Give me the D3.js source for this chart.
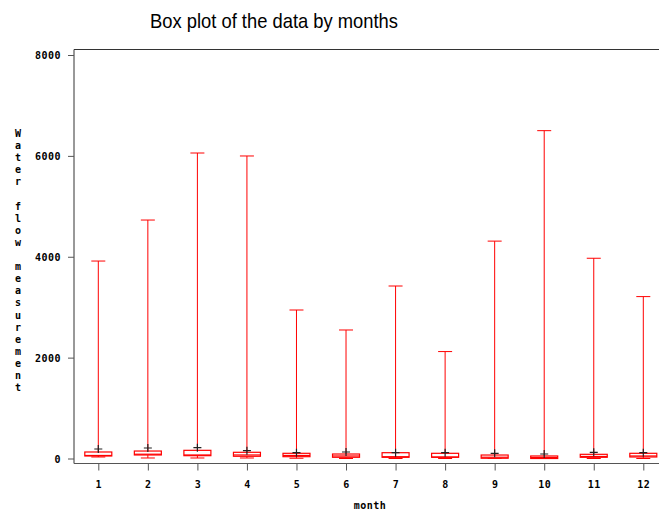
<!DOCTYPE html>
<html><head><meta charset="utf-8">
<script src="https://cdn.jsdelivr.net/npm/d3@7"></script>
<style>body{margin:0;background:#fff}svg{display:block}</style>
</head><body>
<svg id="c" width="659" height="515"></svg>
<script>
const months = ["1","2","3","4","5","6","7","8","9","10","11","12"];
const maxVals = [3915, 4728, 6057, 5998, 2944, 2548, 3420, 2120, 4310, 6500, 3970, 3210];
const q3Vals  = [129, 148, 162, 123, 103, 89, 115, 103, 69, 50, 83, 103];
const medVals = [60, 85, 70, 70, 60, 50, 35, 30, 25, 20, 40, 50];
const q1Vals  = [50, 70, 56, 44, 36, 24, 24, 24, 5, 0, 24, 30];
const minVals = [30, 10, 10, 10, 5, 0, 0, 0, 0, 0, 0, 0];
const meanVals = [188, 208, 215, 155, 115, 129, 115, 115, 103, 89, 123, 115];
const yTicks = [0, 2000, 4000, 6000, 8000];

const svg = d3.select("#c");
const x = d3.scalePoint().domain(months).range([98.3, 643.3]);
const y = d3.scaleLinear().domain([0, 8000]).range([458.5, 55]);
const data = months.map((m,i)=>({m, max:maxVals[i], q3:q3Vals[i], med:medVals[i], q1:q1Vals[i], min:minVals[i], mean:meanVals[i]}));

const axisColor = "#333";
const tickFont = "'DejaVu Sans Mono', monospace";

// title
svg.append("text").attr("x", 274).attr("y", 28).attr("text-anchor","middle")
  .attr("font-family","'Liberation Sans', Arial, sans-serif").attr("font-size", 21)
  .attr("textLength", 248).attr("lengthAdjust","spacingAndGlyphs")
  .text("Box plot of the data by months");

// frame lines
svg.append("line").attr("x1",74).attr("x2",74).attr("y1",49.5).attr("y2",463.5).attr("stroke",axisColor);
svg.append("line").attr("x1",74).attr("x2",659).attr("y1",49.5).attr("y2",49.5).attr("stroke",axisColor);

// y axis
const yAxis = d3.axisLeft(y).tickValues(yTicks).tickSize(6).tickPadding(7).tickFormat(d3.format("d"));
const gy = svg.append("g").attr("transform","translate(74,0)").call(yAxis);
gy.select(".domain").remove();
gy.selectAll(".tick line").attr("stroke","#555");
gy.selectAll(".tick text").attr("font-family",tickFont).attr("font-weight","bold")
  .attr("font-size",10).attr("letter-spacing","0.5px").attr("fill","#000").attr("dy","0.35em");

// x axis
const xAxis = d3.axisBottom(x).tickSize(7).tickPadding(10);
const gx = svg.append("g").attr("transform","translate(0,463.5)").call(xAxis);
gx.select(".domain").remove();
svg.append("line").attr("x1",74).attr("x2",659).attr("y1",463.5).attr("y2",463.5).attr("stroke","#555");
gx.selectAll(".tick line").attr("stroke","#555");
gx.selectAll(".tick text").attr("font-family",tickFont).attr("font-weight","bold")
  .attr("font-size",10).attr("letter-spacing","0.5px").attr("fill","#000");

// axis labels
svg.append("text").attr("x",370).attr("y",509).attr("text-anchor","middle")
  .attr("font-family",tickFont).attr("font-weight","bold").attr("font-size",10).attr("letter-spacing","0.5px")
  .text("month");
const ylab = "Water flow measurement".split("");
svg.append("g").selectAll("text").data(ylab).join("text")
  .attr("x",18).attr("y",(d,i)=>137 + i*12.1).attr("text-anchor","middle")
  .attr("font-family",tickFont).attr("font-weight","bold").attr("font-size",10)
  .text(d=>d);

// boxes
const red = "#ff0000";
const bw = 27, cw = 14;
const g = svg.append("g").selectAll("g").data(data).join("g");
g.append("line").attr("x1",d=>x(d.m)).attr("x2",d=>x(d.m)).attr("y1",d=>y(d.max)).attr("y2",d=>y(d.q3)).attr("stroke",red);
g.append("line").attr("x1",d=>x(d.m)-cw/2).attr("x2",d=>x(d.m)+cw/2).attr("y1",d=>y(d.max)).attr("y2",d=>y(d.max)).attr("stroke",red);
g.append("line").attr("x1",d=>x(d.m)).attr("x2",d=>x(d.m)).attr("y1",d=>y(d.q1)).attr("y2",d=>y(d.min)).attr("stroke",red);
g.append("line").attr("x1",d=>x(d.m)-cw/2).attr("x2",d=>x(d.m)+cw/2).attr("y1",d=>y(d.min)).attr("y2",d=>y(d.min)).attr("stroke",red);
g.append("rect").attr("x",d=>x(d.m)-bw/2).attr("width",bw).attr("y",d=>y(d.q3)).attr("height",d=>Math.max(1,y(d.q1)-y(d.q3)))
  .attr("fill","#fff").attr("stroke",red).attr("stroke-width",1.2);
g.append("line").attr("x1",d=>x(d.m)-bw/2).attr("x2",d=>x(d.m)+bw/2).attr("y1",d=>y(d.med)).attr("y2",d=>y(d.med)).attr("stroke",red).attr("stroke-width",1.2);
// mean markers
g.append("path").attr("d",d=>{const cx=x(d.m), cy=y(d.mean); return `M${cx-4},${cy}H${cx+4}M${cx},${cy-4}V${cy+4}`;})
  .attr("stroke","#222").attr("stroke-width",1.2).attr("fill","none");
</script>
</body></html>
